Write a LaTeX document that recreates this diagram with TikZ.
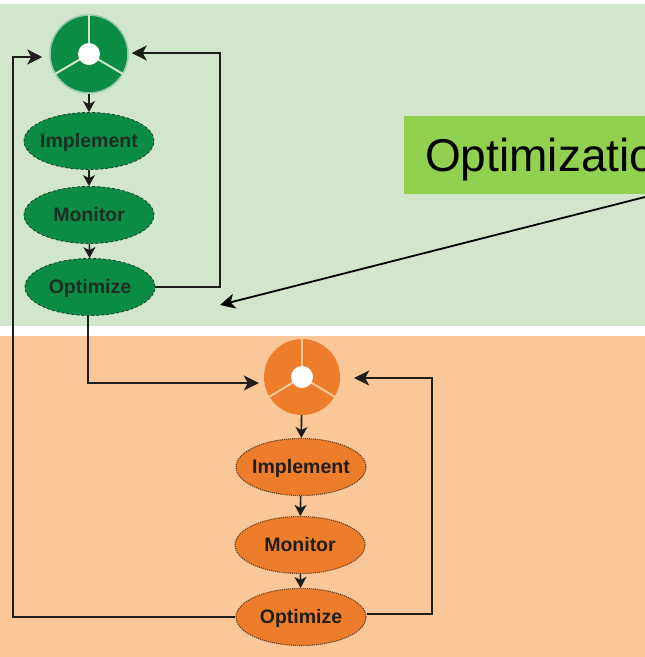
\documentclass[tikz,border=0pt]{standalone}
\usepackage{fontspec}
\setmainfont{Liberation Sans}
\usetikzlibrary{arrows.meta,shapes.geometric}
\definecolor{bggreen}{HTML}{D2E6CB}
\definecolor{bgorange}{HTML}{FAC898}
\definecolor{dgreen}{HTML}{0B8C45}
\definecolor{dorange}{HTML}{EE7D2B}
\definecolor{lbl}{HTML}{92D050}
\definecolor{ink}{HTML}{1E1E1A}
\tikzset{
 stage/.style={ellipse,minimum width=130pt,minimum height=57pt,inner xsep=-20pt,inner ysep=0pt,text height=13pt,text depth=0pt,font=\bfseries\fontsize{19.5}{19.5}\selectfont},
 gstage/.style={stage,fill=dgreen,draw=ink!70!dgreen,densely dashed,line width=.8pt,text=ink!85!dgreen},
 ostage/.style={stage,fill=dorange,draw=ink!70!dorange,densely dotted,line width=1.1pt,text=ink},
 wheel/.style={circle,minimum size=#1,inner sep=0pt},
 link/.style={draw=ink,line width=1.8pt,-{Stealth[length=15pt,width=15pt,inset=4pt]}},
 shortlink/.style={draw=ink,line width=1.6pt,-{Stealth[length=11pt,width=12pt,inset=3pt]}},
 spoke/.style={line width=2pt},
}
\begin{document}
\begin{tikzpicture}[x=1pt,y=-1pt]
\useasboundingbox (0,0) rectangle (645,657);
\clip (0,0) rectangle (645,657);
\fill[white] (0,0) rectangle (645,657);
\fill[bggreen] (0,4) rectangle (645,326);
\fill[bgorange] (0,336) rectangle (645,657);
% green wheel
\node[wheel=78pt,fill=dgreen,draw=white!55!dgreen,line width=1.5pt] (gw) at (89,54) {};
\draw[spoke,draw=bggreen] (89,54) -- (89,15);
\draw[spoke,draw=bggreen] (89,54) -- (55,74);
\draw[spoke,draw=bggreen] (89,54) -- (123,74);
\node[wheel=22pt,fill=white] (gh) at (89,54) {};
\node[gstage] (gi) at (89,141) {Implement};
\node[gstage] (gm) at (89,215) {Monitor};
\node[gstage] (go) at (90,287) {Optimize};
% orange wheel
\node[wheel=76pt,fill=dorange] (ow) at (302,377) {};
\draw[spoke,draw=bgorange] (302,377) -- (302,339);
\draw[spoke,draw=bgorange] (302,377) -- (269,397);
\draw[spoke,draw=bgorange] (302,377) -- (335,397);
\node[wheel=22pt,fill=white] (oh) at (302,377) {};
\node[ostage] (oi) at (301,467) {Implement};
\node[ostage] (om) at (300,545) {Monitor};
\node[ostage] (oo) at (301,617) {Optimize};
% label
\node[anchor=west,fill=lbl,minimum height=78pt,minimum width=290pt,inner sep=0pt,text width=290pt,text height=33pt,text depth=0pt,font=\fontsize{46}{46}\selectfont] (lab) at (404,155) {\hspace{21pt}Optimization};
% vertical links
\draw[shortlink] (gw) -- (gi);
\draw[shortlink] (gi) -- (gm);
\draw[shortlink] (gm) -- (go);
\draw[shortlink] (ow) -- (oi);
\draw[shortlink] (oi) -- (om);
\draw[shortlink] (om) -- (oo);
% feedback
\draw[link] (go.east) -- (220,287) -- (220,53) -- ([xshift=3pt]gw.east |- 0,53);
\draw[link] (oo.west) -- (13,617) -- (13,57) -- ([xshift=-7pt]gw.west |- 0,57);
\draw[link] ([xshift=-2pt]go.south) -- (88,383) -- ([xshift=-5pt]ow.west |- 0,383);
\draw[link] (oo.east |- 0,614) -- (432,614) -- (432,378) -- ([xshift=14pt]ow.east |- 0,378);
% callout
\coordinate (tip) at (220,305);
\coordinate (tail) at (645,197);
\draw[link,draw=black] (tail) -- (tip);
\end{tikzpicture}
\end{document}
